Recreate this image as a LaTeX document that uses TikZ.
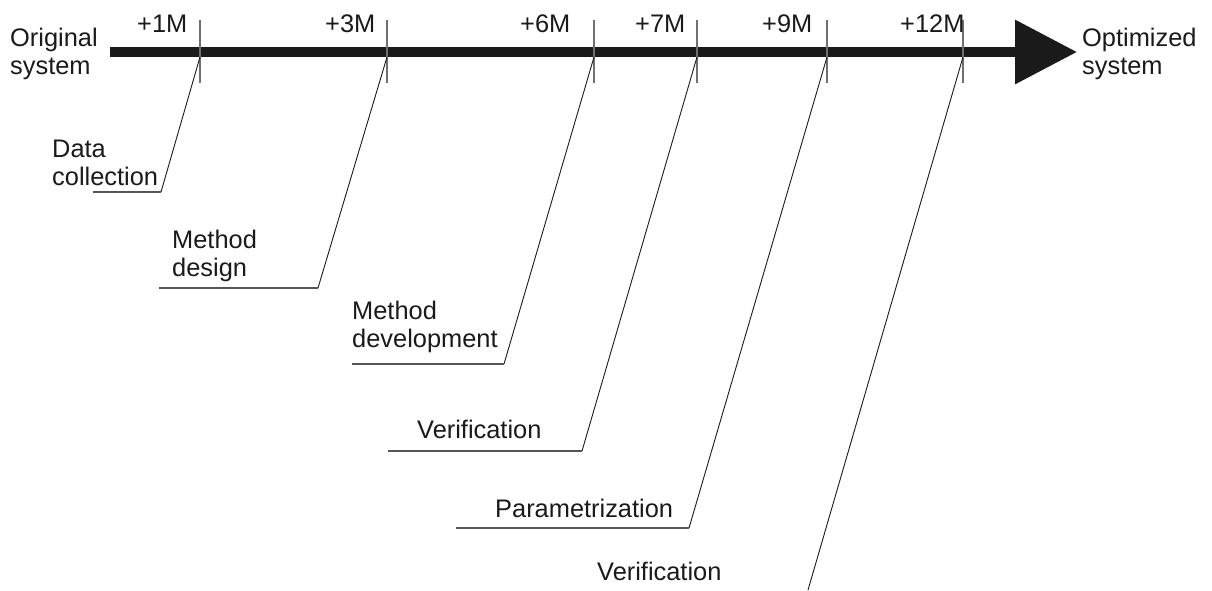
\documentclass[tikz,border=0pt]{standalone}
\usepackage{fontspec}
\setmainfont{Liberation Sans}
\usetikzlibrary{arrows.meta}
\definecolor{ink}{HTML}{1A1A1A}
\definecolor{tickgray}{HTML}{707070}
\definecolor{rulegray}{HTML}{555555}
\begin{document}
\begin{tikzpicture}[x=1pt,y=-1pt,
  lbl/.style={inner sep=0pt, anchor=base west, align=left, text=ink,
              font=\fontsize{25.4}{27.8}\selectfont},
  ticklbl/.style={lbl},
  tickmark/.style={draw=tickgray, line width=1.4pt},
  leader/.style={draw=ink, line width=0.9pt},
  shelf/.style={draw=rulegray, line width=1.3pt},
  mainarrow/.style={draw=ink, line width=10pt,
                    -{Triangle[length=62pt,width=62pt]}}]
\useasboundingbox (0,0) rectangle (1212,590);

% end states (base anchor sits on the last line)
\node[lbl] (orig) at (10,74) {Original\\system};
\node[lbl] (opt) at (1082,74) {Optimized\\system};

% time axis
\coordinate (barL) at (110,52);
\coordinate (barR) at (1077,52);
\draw[mainarrow] (barL) -- (barR);

% milestones on the axis
\foreach \n/\x/\lx/\t in {1/200/137/+1M, 2/387/325/+3M, 3/594/520/+6M,
                         4/697/635/+7M, 5/827/762/+9M, 6/963/900/+12M}{
  \coordinate (t\n) at (\x,52);
  \coordinate (f\n) at (\x,57);
  \draw[tickmark] ([yshift=32pt]t\n) -- ([yshift=-31pt]t\n);
  \node[ticklbl] (m\n) at (\lx,32) {\t};
}

% activities
\node[lbl] (a1) at (52,185) {Data\\collection};
\node[lbl] (a2) at (172,276) {Method\\design};
\node[lbl] (a3) at (352,347) {Method\\development};
\node[lbl] (a4) at (417,438) {Verification};
\node[lbl] (a5) at (495,517) {Parametrization};
\node[lbl] (a6) at (597,580) {Verification};

% leader lines from the milestones down to the activities
\coordinate (e1) at (161,192);  \coordinate (s1) at (93,192);
\coordinate (e2) at (318,288);  \coordinate (s2) at (159,288);
\coordinate (e3) at (504,364);  \coordinate (s3) at (352,364);
\coordinate (e4) at (582,451);  \coordinate (s4) at (388,451);
\coordinate (e5) at (689,528);  \coordinate (s5) at (456,528);
\coordinate (e6) at (808,590);

\foreach \n in {1,...,5}{
  \draw[leader] (f\n) -- (e\n);
  \draw[shelf] (e\n) -- (s\n);
}
\draw[leader] (f6) -- (e6);
\end{tikzpicture}
\end{document}
